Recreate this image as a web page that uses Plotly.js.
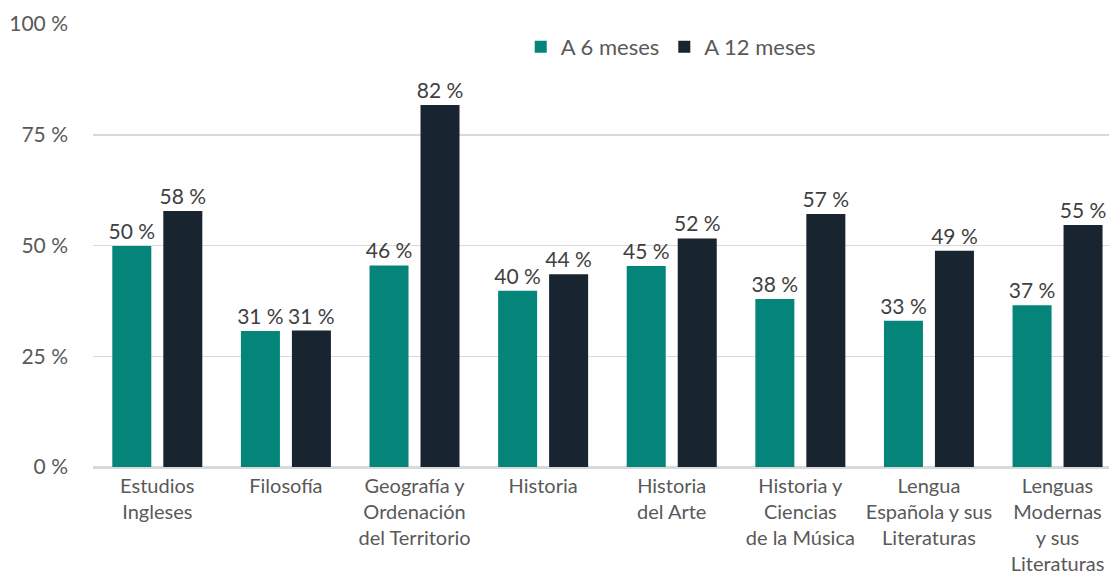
<!DOCTYPE html>
<html>
<head>
<meta charset="utf-8">
<script src="https://cdn.plot.ly/plotly-3.0.1.min.js"></script>
<style>html,body{margin:0;padding:0;background:#fff;}#chart{width:1109px;height:574px;}</style>
</head>
<body>
<div id="chart"></div>
<script>
const categories = [
  "Estudios<br>Ingleses",
  "Filosofía",
  "Geografía y<br>Ordenación<br>del Territorio",
  "Historia",
  "Historia<br>del Arte",
  "Historia y<br>Ciencias<br>de la Música",
  "Lengua<br>Española y sus<br>Literaturas",
  "Lenguas<br>Modernas<br>y sus<br>Literaturas"
];
const seriesNames = ["A 6 meses", "A 12 meses"];
const values6 = [49.9, 30.7, 45.5, 39.8, 45.4, 37.9, 33.0, 36.5];
const values12 = [57.8, 30.8, 81.7, 43.5, 51.6, 57.1, 48.8, 54.6];
const labels6 = ["50 %", "31 %", "46 %", "40 %", "45 %", "38 %", "33 %", "37 %"];
const labels12 = ["58 %", "31 %", "82 %", "44 %", "52 %", "57 %", "49 %", "55 %"];
const yTicks = [0, 25, 50, 75, 100];

const font = "Lato, 'Open Sans', sans-serif";
const labelFont = {family: font, size: 21, color: "#404040"};

const traces = [
  {type: "bar", name: seriesNames[0], x: categories, y: values6, text: labels6,
   textposition: "outside", constraintext: "none", cliponaxis: false,
   textfont: labelFont, marker: {color: "#05857A"}, hoverinfo: "none"},
  {type: "bar", name: seriesNames[1], x: categories, y: values12, text: labels12,
   textposition: "outside", constraintext: "none", cliponaxis: false,
   textfont: labelFont, marker: {color: "#18242F"}, hoverinfo: "none"}
];

const layout = {
  width: 1109, height: 574,
  margin: {l: 93, r: 0, t: 24, b: 107},
  paper_bgcolor: "#fff", plot_bgcolor: "#fff",
  barmode: "group", bargap: 0.207, bargroupgap: 0.235,
  font: {family: font, color: "#595959", size: 20},
  showlegend: true,
  legend: {orientation: "h", x: 0.421, xanchor: "left", y: 0.948, yanchor: "middle",
           font: {family: font, size: 22, color: "#595959"}, bgcolor: "rgba(0,0,0,0)",
           itemwidth: 30, traceorder: "normal"},
  xaxis: {type: "category", range: [-0.5, 7.4], showgrid: false, showline: true,
          linecolor: "#D9D9D9", linewidth: 1.5, ticks: "", tickangle: 0,
          tickfont: {family: font, size: 20, color: "#595959"}, fixedrange: true},
  yaxis: {range: [0, 100], tickvals: yTicks, ticktext: yTicks.map(v => v + " %"),
          showgrid: true, gridcolor: "#D9D9D9", gridwidth: 1.5, zeroline: true,
          zerolinecolor: "#D9D9D9", zerolinewidth: 1.5, showline: false, ticks: "",
          ticklabelstandoff: 24,
          tickfont: {family: font, size: 21, color: "#595959"}, fixedrange: true}
};

Plotly.newPlot("chart", traces, layout, {displayModeBar: false, staticPlot: true});
</script>
</body>
</html>
